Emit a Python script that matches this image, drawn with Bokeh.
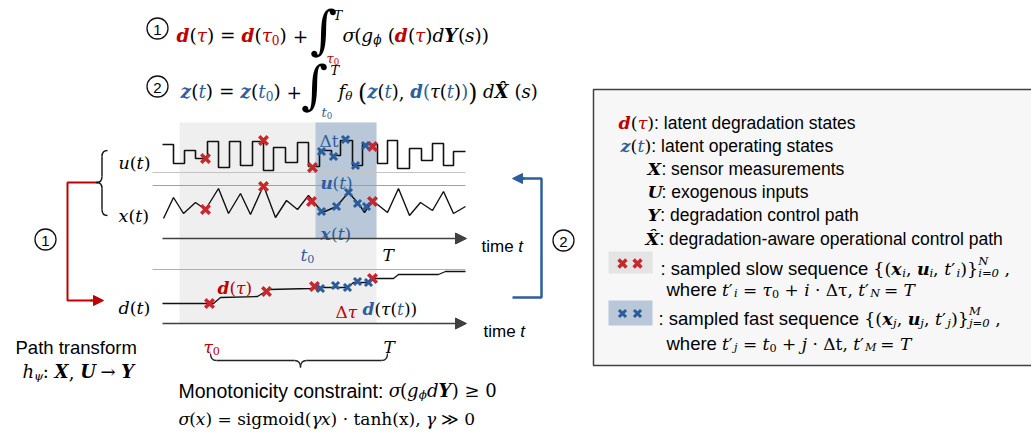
import numpy as np
from bokeh.plotting import figure
from bokeh.models import Range1d, Arrow, NormalHead, ColumnDataSource
from bokeh.embed import file_html
from bokeh.resources import INLINE
from bokeh.core.properties import value

# ---------------- data (diagram space: x = time position, y = signal level) -------------
u_edges = [162, 173, 184, 195, 207, 218, 229, 240, 252, 263, 273, 285, 297, 308, 319,
           331, 340, 352, 362, 377, 387, 397, 409, 421, 432, 443, 453, 465]
u_levels = [144, 163, 150, 158, 141, 167, 141, 165, 141, 170, 147, 162, 142, 166, 150,
            155, 140, 165, 144, 163, 140, 168, 148, 160, 143, 165, 151]
x_t = [163, 173, 183, 195, 205, 218, 228, 240, 250, 263, 275, 286, 297, 308, 322, 336,
       348, 358, 364, 372, 387, 398, 409, 420, 432, 443, 453, 465]
x_v = [218, 197, 213, 202, 209, 188, 213, 193, 214, 185, 217, 200, 209, 195, 212, 206,
       192, 203, 212, 200, 212, 188, 215, 202, 210, 191, 213, 206]
d_t = [162, 213, 220, 257, 268, 310, 318, 347, 353, 367, 373, 393, 398, 438, 445, 465]
d_v = [303, 303, 297, 296, 289, 288, 287, 287, 282, 282, 278, 278, 274, 274, 271, 271]

slow_t_u = [205, 263, 312, 372]; slow_u = [158, 140, 167, 146]
fast_t_u = [321, 333, 345, 355, 365]; fast_u = [151, 156, 139, 165, 145]
slow_t_x = [205, 263, 311, 372]; slow_x = [209, 186, 201, 201]
fast_t_x = [321, 336, 348, 357, 366]; fast_x = [211, 206, 192, 203, 206]
slow_t_d = [209, 266, 314, 372]; slow_d = [303, 291, 286, 278]
fast_t_d = [320, 335, 347, 357, 368]; fast_d = [288, 285, 287, 281, 282]

# ---------------- styling ----------------
RED = "#c00000"; BLUE = "#2e5e9e"; K = "#000000"
XR = "#c8282c"; XB = "#2b5c9b"
GRAYBG = "#efefef"; BLUEBG = "#b9c8d8"
SERIF = "DejaVu Serif"; SANS = "Liberation Sans"

W, H = 1031, 433
p = figure(width=W, height=H, x_range=Range1d(0, W), y_range=Range1d(H, 0),
           output_backend="svg", toolbar_location=None, min_border=0)
p.axis.visible = False
p.grid.visible = False
p.outline_line_color = None
p.background_fill_color = "white"
p.border_fill_color = "white"

# ---------------- text machinery ----------------
SERIF_W = {' ': .318, '(': .390, ')': .390, '+': .838, '=': .838, ',': .318, '.': .318, ':': .337,
           'a': .596, 'b': .640, 'c': .560, 'd': .640, 'e': .592, 'f': .370, 'g': .640, 'h': .644,
           'i': .320, 'j': .320, 'k': .610, 'l': .320, 'm': .948, 'n': .644, 'o': .602, 'p': .640,
           'r': .478, 's': .513, 't': .402, 'u': .644, 'x': .565, 'y': .565, 'z': .525,
           'T': .667, 'X': .722, 'U': .730, 'Y': .667, 'N': .748, 'M': .870,
           'τ': .55, 'σ': .63, 'ϕ': .70, 'φ': .70, 'θ': .60, 'ψ': .73, 'γ': .56, 'Δ': .72,
           '·': .318, '≥': .838, '≫': .838, '→': .838, '{': .637, '}': .637, '′': .30, '\u0302': 0}
for ch in "0123456789":
    SERIF_W[ch] = .636
SANS_W = {' ': .278, ':': .278, ',': .278, '-': .333, '.': .278,
          'a': .556, 'b': .556, 'c': .5, 'd': .556, 'e': .556, 'f': .278, 'g': .556, 'h': .556,
          'i': .222, 'j': .222, 'k': .5, 'l': .222, 'm': .833, 'n': .556, 'o': .556, 'p': .556,
          'q': .556, 'r': .333, 's': .5, 't': .278, 'u': .556, 'v': .5, 'w': .722, 'x': .5,
          'y': .5, 'z': .5, 'P': .667, 'M': .833}
STYLE = {'n': 'normal', 'i': 'italic', 'b': 'bold', 'bi': 'bold italic', 's': 'normal', 'si': 'italic'}

TXT = {}


def put(x, y, t, fam, st, col, fs, align="left", base="alphabetic"):
    key = (fam, st, col, round(fs, 1), align, base)
    d = TXT.setdefault(key, dict(x=[], y=[], t=[]))
    d['x'].append(x); d['y'].append(y); d['t'].append(t)


def tw(t, fam, st):
    tab = SANS_W if fam == SANS else SERIF_W
    w = sum(tab.get(ch, .556 if fam == SANS else .6) for ch in t)
    if st in ('b', 'bi'):
        w *= 1.1
    return w


def S(t, st="i", c=K, k="n"):
    return (t, st, c, k)


def run(x, y, segs, size, ssize=None):
    ssize = ssize or size
    for t, st, c, k in segs:
        fam = SANS if st.startswith('s') else SERIF
        base = ssize if fam == SANS else size
        if k == 'stack':
            sup, sub = t
            fs = base * 0.66
            put(x, y - 0.42 * base, sup, fam, STYLE[st], c, fs)
            put(x, y + 0.25 * base, sub, fam, STYLE[st], c, fs)
            x += max(tw(sup, fam, st), tw(sub, fam, st)) * fs
            continue
        fs = base * {'n': 1.0, 'sub': 0.66, 'sup': 0.66, 'big': 1.3}[k]
        dy = {'n': 0, 'sub': 0.25 * base, 'sup': -0.42 * base, 'big': 0.1 * base}[k]
        lead = len(t) - len(t.lstrip(' '))
        core = t.strip(' ')
        trail = len(t) - lead - len(core)
        x += lead * tw(' ', fam, 'n') * fs
        if core:
            put(x, y + dy, core, fam, STYLE[st], c, fs)
        x += tw(core, fam, st) * fs + trail * tw(' ', fam, 'n') * fs
    return x


# ---------------- backgrounds ----------------
p.quad(left=[179], right=[376], top=[122], bottom=[323], fill_color=GRAYBG, line_color=None)
p.quad(left=[315], right=[376], top=[122], bottom=[238], fill_color=BLUEBG, line_color=None)
p.quad(left=[593], right=[1040], top=[89], bottom=[365], fill_color="#f7f7f7",
       line_color="#404040", line_width=1.5)
p.quad(left=[608], right=[652], top=[251], bottom=[273], fill_color="#e4e4e4", line_color=None)
p.quad(left=[608], right=[652], top=[300], bottom=[325], fill_color=BLUEBG, line_color=None)

# guide lines
p.segment(x0=[152, 152], y0=[172, 185], x1=[465, 465], y1=[172, 185],
          line_color=["#c4c4c4", "#a0a0a0"], line_width=1)
p.segment(x0=[152], y0=[269], x1=[465], y1=[269], line_color="#b0b0b0", line_width=1)

# time axes
for yy in (238, 323):
    p.add_layout(Arrow(end=NormalHead(size=11, fill_color="#404040", line_color="#404040"),
                       x_start=162, y_start=yy, x_end=466, y_end=yy,
                       line_color="#404040", line_width=1.6))

# signals
p.step(x=u_edges, y=u_levels + [u_levels[-1]], mode="after", line_color="#111111", line_width=1.6)
p.line(x=x_t, y=x_v, line_color="#111111", line_width=1.4)
p.line(x=d_t, y=d_v, line_color="#111111", line_width=1.3)

# samples
p.scatter(x=slow_t_u + slow_t_x + slow_t_d, y=slow_u + slow_x + slow_d, marker="x",
          size=12, line_color=XR, line_width=3.5)
p.scatter(x=fast_t_u + fast_t_x + fast_t_d, y=fast_u + fast_x + fast_d, marker="x",
          size=10, line_color=XB, line_width=3)
p.scatter(x=[622, 637], y=[263, 263], marker="x", size=11, line_color=XR, line_width=3.5)
p.scatter(x=[622, 637], y=[313, 313], marker="x", size=10, line_color=XB, line_width=3)

# red bracket (1)
p.line(x=[98, 67, 67, 92], y=[182, 182, 300, 300], line_color=RED, line_width=2)
p.add_layout(Arrow(end=NormalHead(size=10, fill_color=RED, line_color=RED),
                   x_start=90, y_start=300, x_end=103, y_end=300, line_color=RED, line_width=2))
# blue bracket (2)
p.line(x=[512, 541, 541, 522], y=[297, 297, 178, 178], line_color=BLUE, line_width=2.5)
p.add_layout(Arrow(end=NormalHead(size=10, fill_color=BLUE, line_color=BLUE),
                   x_start=524, y_start=178, x_end=512, y_end=178, line_color=BLUE, line_width=2.5))

# circled numbers
cx = [157, 157, 45, 563]; cy = [28, 86, 239, 240]; cn = ["1", "2", "1", "2"]
p.circle(x=cx, y=cy, radius=10.5, fill_color=None, line_color="#111111", line_width=1.3)
for a, b, n in zip(cx, cy, cn):
    put(a, b + 1, n, SANS, "normal", K, 15, align="center", base="middle")

# braces
xe, xt, y0, y1, ym, r = 107, 96, 150, 215, 182, 6
xm = (xe + xt) / 2
p.quadratic(x0=[xe, xm, xt, xm], y0=[y0, ym - r, ym, y1 - r],
            x1=[xm, xt, xm, xe], y1=[y0 + r, ym, ym + r, y1],
            cx=[xm, xm, xm, xm], cy=[y0, ym, ym, y1], line_color="#111111", line_width=1.4)
p.segment(x0=[xm, xm], y0=[y0 + r, ym + r], x1=[xm, xm], y1=[ym - r, y1 - r],
          line_color="#111111", line_width=1.4)
bl, br, bt, bm, btip, bc = 210, 387, 353, 360, 367, 300
p.quadratic(x0=[bl, bc - 6, bc, br - 6], y0=[bt, bm, btip, bm],
            x1=[bl + 6, bc, bc + 6, br], y1=[bm, btip, bm, bt],
            cx=[bl, bc, bc, br], cy=[bm, bm, bm, bm], line_color="#222222", line_width=1.3)
p.segment(x0=[bl + 6, bc + 6], y0=[bm, bm], x1=[bc - 6, br - 6], y1=[bm, bm],
          line_color="#222222", line_width=1.3)

# ---------------- equations ----------------
run(176, 35, [S("d", "bi", RED), S("(", "n"), S("τ", "i", RED), S(")", "n"), S(" = ", "n"),
              S("d", "bi", RED), S("(", "n"), S("τ", "i", RED), S("0", "n", RED, "sub"),
              S(")", "n"), S(" +", "n")], 18.5)
put(323, 29, "∫", SERIF, "normal", K, 52, align="center", base="middle")
put(333, 15, "T", SERIF, "italic", K, 13)
run(326, 58, [S("τ", "i", RED), S("0", "n", RED, "sub")], 13)
run(342, 35, [S("σ"), S("(", "n"), S("g"), S("ϕ", "i", K, "sub"), S(" (", "n"), S("d", "bi", RED),
              S("(", "n"), S("τ", "i", RED), S(")", "n"), S("d"), S("Y", "bi"), S("(", "n"),
              S("s"), S("))", "n")], 18.5)

run(180, 91, [S("z", "bi", BLUE), S("(", "n"), S("t", "i", BLUE), S(")", "n"), S(" = ", "n"),
              S("z", "bi", BLUE), S("(", "n"), S("t", "i", BLUE), S("0", "n", BLUE, "sub"),
              S(")", "n"), S(" +", "n")], 18.5)
put(314, 84, "∫", SERIF, "normal", K, 52, align="center", base="middle")
put(330, 70, "T", SERIF, "italic", K, 13)
run(321, 112, [S("t", "i", BLUE), S("0", "n", BLUE, "sub")], 13)
run(338, 91, [S("f"), S("θ", "i", K, "sub"), S(" ", "n"), S("(", "n", K, "big"), S("z", "bi", BLUE),
              S("(", "n"), S("t", "i", BLUE), S(")", "n"), S(", ", "n"), S("d", "bi", BLUE),
              S("(", "n", BLUE), S("τ", "i"), S("(", "n"), S("t", "i", BLUE), S(")", "n"),
              S(")", "n", BLUE), S(")", "n", K, "big"), S(" d"), S("X\u0302", "bi"), S(" (", "n"),
              S("s"), S(")", "n")], 18)

# ---------------- diagram labels ----------------
for yy, ch in ((162, "u"), (215, "x"), (307, "d")):
    run(118, yy, [S(ch), S("(", "n"), S("t"), S(")", "n")], 17.5)
put(15, 347, "Path transform", SANS, "normal", K, 18.5)
run(22, 371, [S("h"), S("ψ", "i", K, "sub"), S(": ", "n"), S("X", "bi"), S(", ", "n"), S("U", "bi"),
              S(" → ", "n"), S("Y", "bi")], 18)

run(481, 246, [S("time ", "s"), S("t", "si")], 17)
run(483, 331, [S("time ", "s"), S("t", "si")], 17)

run(319, 140, [S("Δ", "n", BLUE), S("t", "n", BLUE)], 17)
run(320, 182, [S("u", "bi", BLUE), S("(", "n", BLUE), S("t", "i", BLUE), S(")", "n", BLUE)], 17)
run(320, 233, [S("x", "bi", BLUE), S("(", "n", BLUE), S("t", "i", BLUE), S(")", "n", BLUE)], 17)
run(300, 254, [S("t", "i", BLUE), S("0", "n", BLUE, "sub")], 17)
run(382, 254, [S("T")], 17)
run(203, 346, [S("τ", "i", RED), S("0", "n", RED, "sub")], 17)
run(383, 346, [S("T")], 17)
run(217, 287, [S("d", "bi", RED), S("(", "n", RED), S("τ", "i", RED), S(")", "n", RED)], 17)
run(335, 311, [S("Δ", "n", RED), S("τ", "i", RED)], 17)
run(362, 308, [S("d", "bi", BLUE), S("(", "n"), S("τ", "i"), S("(", "n"), S("t", "i", BLUE),
               S("))", "n")], 17)

xm2 = run(178, 390, [S("Monotonicity constraint: ", "s")], 19.5)
run(xm2, 390, [S("σ"), S("(", "n"), S("g"), S("ϕ", "i", K, "sub"), S("d"), S("Y", "bi"),
               S(")", "n"), S(" ≥ 0", "n")], 18)
run(178, 418, [S("σ"), S("(", "n"), S("x"), S(") = ", "n"), S("sigmoid", "n"), S("(", "n"),
               S("γ"), S("x"), S(") · ", "n"), S("tanh(x)", "n"), S(", ", "n"), S("γ"),
               S(" ≫ 0", "n")], 17)

# ---------------- legend ----------------
run(618, 122, [S("d", "bi", RED), S("(", "n"), S("τ", "i", RED), S(")", "n"),
               S(": latent degradation states", "s")], 17.5)
run(620, 145, [S("z", "bi", BLUE), S("(", "n"), S("t", "i", BLUE), S(")", "n"),
               S(": latent operating states", "s")], 17.5)
run(647, 168, [S("X", "bi"), S(": sensor measurements", "s")], 17.5)
run(647, 191, [S("U", "bi"), S(": exogenous inputs", "s")], 17.5)
run(647, 214, [S("Y", "bi"), S(": degradation control path", "s")], 17.5)
run(645, 238, [S("X\u0302", "bi"), S(": degradation-aware operational control path", "s")], 17.5)
for yy, idx, top, xx in ((268, "i", "N", 660), (318, "j", "M", 658)):
    kind = "slow" if idx == "i" else "fast"
    run(xx, yy, [S(f": sampled {kind} sequence ", "s"), S("{(", "n"), S("x", "bi"),
                 S(idx, "i", K, "sub"), S(", ", "n"), S("u", "bi"), S(idx, "i", K, "sub"),
                 S(", ", "n"), S("t"), S("′", "n"), S(idx, "i", K, "sub"), S(")}", "n"),
                 S((top, f"{idx}=0"), "i", K, "stack"), S(" ,", "n")], 17.5, 18.5)
run(666, 289, [S("where ", "s"), S("t"), S("′", "n"), S("i", "i", K, "sub"), S(" = ", "n"), S("τ"),
               S("0", "n", K, "sub"), S(" + ", "n"), S("i"), S(" · Δτ, ", "n"), S("t"), S("′", "n"),
               S("N", "i", K, "sub"), S(" = ", "n"), S("T")], 17, 18.5)
run(666, 343, [S("where ", "s"), S("t"), S("′", "n"), S("j", "i", K, "sub"), S(" = ", "n"), S("t"),
               S("0", "n", K, "sub"), S(" + ", "n"), S("j"), S(" · Δt, ", "n"), S("t"), S("′", "n"),
               S("M", "i", K, "sub"), S(" = ", "n"), S("T")], 17, 18.5)

# ---------------- emit texts ----------------
for (fam, st, col, fs, align, base), d in TXT.items():
    p.text(x='x', y='y', text='t', source=ColumnDataSource(d), text_font=value(fam),
           text_font_style=value(st), text_color=col, text_font_size=value(f"{fs}px"),
           text_align=value(align), text_baseline=value(base))

open("out.html", "w").write(file_html(p, INLINE))
